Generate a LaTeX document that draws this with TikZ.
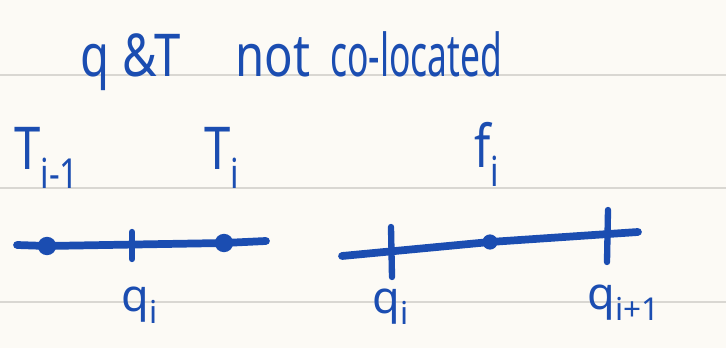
\documentclass[tikz,border=0pt]{standalone}
\usepackage{fontspec}
\setmainfont{Noto Sans}
\usetikzlibrary{positioning}
\definecolor{ink}{HTML}{1B4DB1}
\definecolor{paper}{HTML}{FCFAF5}
\definecolor{ruled}{HTML}{D9D7D2}

\begin{document}
\begin{tikzpicture}[x=0.025cm, y=-0.025cm,
		hand/.style={text=ink, font=\fontsize{32}{34}\selectfont, inner sep=0pt},
		bighand/.style={hand, font=\fontsize{42}{44}\selectfont, xscale=0.8, transform shape},
		axis/.style={ink, line width=5.5pt, line cap=round, line join=round},
		tickmark/.style={ink, line width=4.5pt, line cap=round},
		dot/.style={circle, fill=ink, inner sep=0pt, minimum size=0.46cm},
		ruling/.style={ruled, line width=0.8pt},
		]

		% ---- paper ----
		\fill[paper] (0,0) rectangle (726,348);
		\useasboundingbox (0,0) rectangle (726,348);
		\draw[ruling] (0,75) -- (726,75);
		\draw[ruling] (0,188) -- (726,188);
		\draw[ruling] (0,302) -- (726,302);

		% ---- heading ----
		\node[bighand, anchor=base west] (hq) at (80,77) {q};
		\node[bighand, anchor=base west] (hand) at (122,77) {\&T};
		\node[bighand, anchor=base west] (hnot) at (235,77) {not};
		\node[bighand, anchor=base west, xscale=0.75] (hcol) at (330,77) {co-located};

		% ---- left: temperatures at cell centres ----
		\node[bighand, anchor=base west] (Tprev) at (14,170) {T\textsubscript{i-1}};
		\node[bighand, anchor=base west] (Tcur) at (204,170) {T\textsubscript{i}};

		\coordinate (la) at (17,245);
		\coordinate (lb) at (266,241);
		\node[dot] (dprev) at (47,246) {};
		\node[dot] (dcur) at (224,243) {};
		\draw[axis] (la) -- (dprev.center) -- (dcur.center) -- (lb);
		\coordinate (tma) at (132,232);
		\coordinate (tmb) at (132,259);
		\draw[tickmark] (tma) -- (tmb);
		\node[hand, anchor=base] (qmid) at (140,312) {q\textsubscript{i}};

		% ---- right: flux between faces ----
		\node[bighand, anchor=base west] (flux) at (474,168) {f\textsubscript{i}};

		\coordinate (ra) at (342,256);
		\coordinate (rb) at (638,232);
		\node[dot, minimum size=0.38cm] (dflux) at (490,242) {};
		\draw[axis] (ra) -- (dflux.center) -- (rb);
		\coordinate (t1a) at (391,227);
		\coordinate (t1b) at (392,277);
		\coordinate (t2a) at (608,210);
		\coordinate (t2b) at (607,262);
		\draw[tickmark] (t1a) -- (t1b);
		\draw[tickmark] (t2a) -- (t2b);
		\node[hand, anchor=base] (qleft) at (391,313) {q\textsubscript{i}};
		\node[hand, anchor=base] (qright) at (624,309) {q\textsubscript{i+1}};

	\end{tikzpicture}
\end{document}
